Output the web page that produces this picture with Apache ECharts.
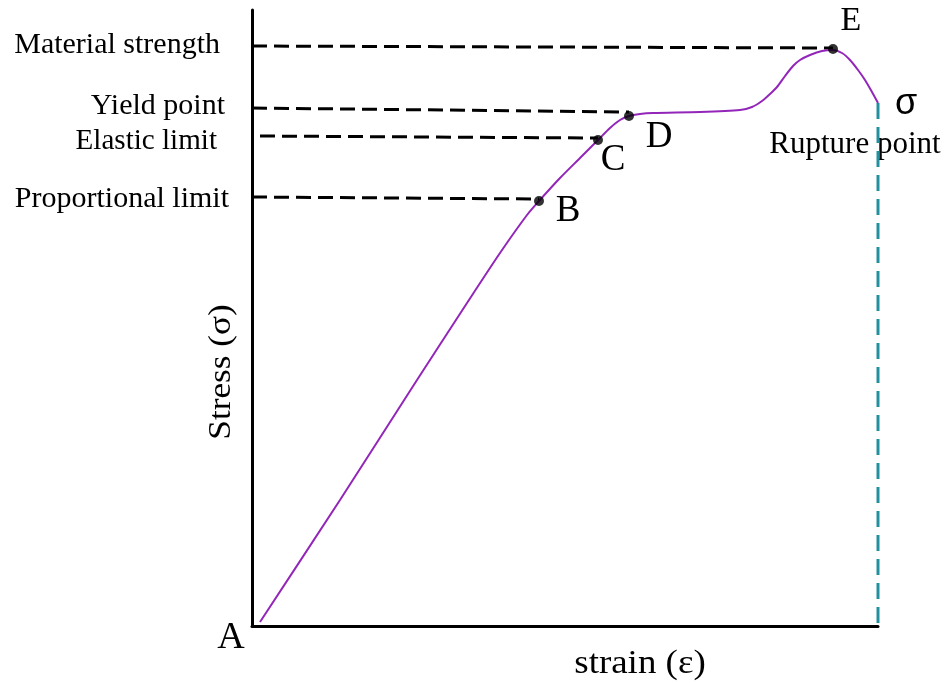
<!DOCTYPE html>
<html>
<head>
<meta charset="utf-8">
<script src="https://cdn.jsdelivr.net/npm/echarts@6/dist/echarts.min.js"></script>
<style>html,body{margin:0;padding:0;background:#fff}#c{width:949px;height:683px}</style>
</head>
<body>
<div id="c"></div>
<script>
// stress-strain curve (strain, stress) in arbitrary units
var curve = [[8,4],[88,126],[165,246],[215,323],[248,373],[275,411],[287,425],[308,448],[328,468],[346,486],[358,498],[368,506],[377,510],[388,512],[401,513],[448,514],[488,516],[500,519],[510,525],[518,532],[525,539],[533,550],[541,560],[548,566],[558,571],[570,575],[581,576],[590,573],[598,566],[606,556],[613,546],[620,534],[626,523]];
var pointNames = ['B','C','D','E'];
var pointValues = [[287,425],[346,486],[377,510],[581,577]];
var levelNames = ['Material strength','Yield point','Elastic limit','Proportional limit'];
var levelLines = [
  [[0,580],[581,578]],
  [[0,518],[377,514]],
  [[8,490],[346,488]],
  [[0,429],[287,427]]
];
var ruptureLine = [[626,523],[626,0]];

var serif = 'Liberation Serif';
var chart = echarts.init(document.getElementById('c'));
var series = [];
levelLines.forEach(function(l, i){
  series.push({type:'line', data:l, symbol:'none', silent:true,
    lineStyle:{color:'#000', width:3, type:[15,7]}, z:2});
});
series.push({type:'line', data:ruptureLine, symbol:'none', silent:true,
  lineStyle:{color:'#23909e', width:3, type:[16,8]}, z:2});
series.push({type:'line', data:curve, smooth:0.25, symbol:'none',
  lineStyle:{color:'#9326b9', width:2}, z:3});
series.push({type:'scatter', data:pointValues, symbol:'circle', symbolSize:10,
  itemStyle:{color:'#000'}, z:4});

var texts = [
  {t:levelNames[0], x:220, y:45, a:'right', s:30, sx:1},
  {t:levelNames[1], x:225, y:106, a:'right', s:30, sx:1},
  {t:levelNames[2], x:217, y:141, a:'right', s:30, sx:0.97},
  {t:levelNames[3], x:229, y:199, a:'right', s:30, sx:1},
  {t:pointNames[0], x:568, y:211, a:'center', s:37, sx:1},
  {t:pointNames[1], x:613, y:160, a:'center', s:37, sx:1},
  {t:pointNames[2], x:659, y:137, a:'center', s:37, sx:1},
  {t:pointNames[3], x:851, y:21, a:'center', s:34, sx:1},
  {t:'A', x:231, y:638, a:'center', s:38, sx:1},
  {t:'Rupture point', x:855, y:145, a:'center', s:31, sx:1},
  {t:'strain (ε)', x:640, y:664, a:'center', s:33, sx:1.12}
];
var graphic = texts.map(function(o){
  return {type:'text', x:o.x, y:o.y, scaleX:o.sx, style:{text:o.t, font: o.s+'px "'+serif+'"', fill:'#000', align:o.a, verticalAlign:'middle'}};
});
graphic.push({type:'text', x:906, y:104, style:{text:'σ', font:'36px "Liberation Sans"', fill:'#000', align:'center', verticalAlign:'middle'}});
graphic.push({type:'text', x:222, y:372, rotation:Math.PI/2, scaleX:1.1,
  style:{text:'Stress (σ)', font:'32px "'+serif+'"', fill:'#000', align:'center', verticalAlign:'middle'}});

chart.setOption({
  animation:false,
  grid:{left:252, right:71, top:10, bottom:57},
  xAxis:{type:'value', min:0, max:626, axisLine:{show:true, onZero:false, lineStyle:{color:'#000', width:3}},
    axisTick:{show:false}, axisLabel:{show:false}, splitLine:{show:false}},
  yAxis:{type:'value', min:0, max:616, axisLine:{show:true, onZero:false, lineStyle:{color:'#000', width:3}},
    axisTick:{show:false}, axisLabel:{show:false}, splitLine:{show:false}},
  series:series,
  graphic:graphic
});
</script>
</body>
</html>
